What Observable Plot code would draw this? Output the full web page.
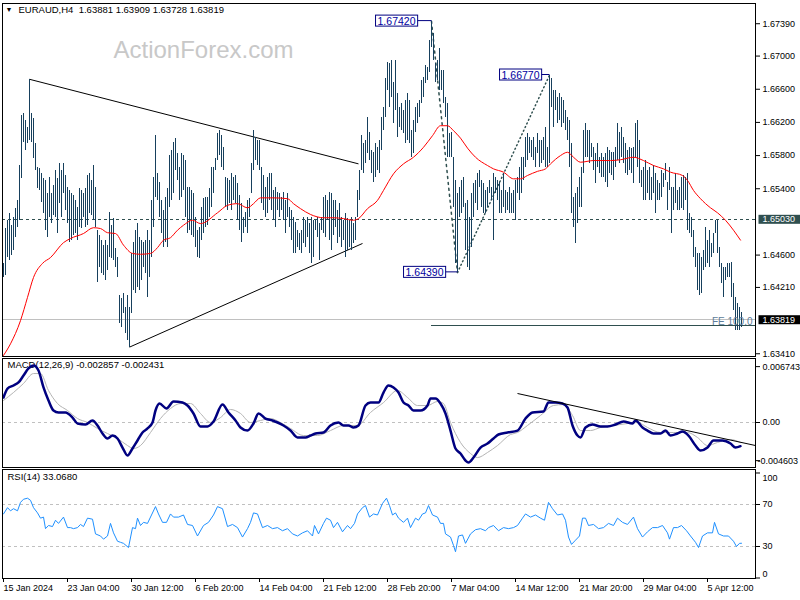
<!DOCTYPE html>
<html><head><meta charset="utf-8">
<script src="https://cdn.jsdelivr.net/npm/d3@7"></script>
<script src="https://cdn.jsdelivr.net/npm/@observablehq/plot@0.6"></script>
<style>
html,body{margin:0;padding:0;background:#fff;}
#chart{position:relative;width:800px;height:600px;overflow:hidden;background:#fff;}
#chart svg{position:absolute;left:0;}
</style></head><body><div id="chart"></div>
<script>
// ---------- DATA ----------
const symbolTitle = "EURAUD,H4\u00a0 1.63881 1.63909 1.63728 1.63819";
const highs = [
1.6450,1.6492,1.6502,1.6510,1.6496,1.6505,1.6516,1.6526,1.6568,1.6628,
1.6631,1.6622,1.6614,1.6672,1.6631,1.6625,1.6595,1.6566,1.6564,1.6558,
1.6552,1.6550,1.6534,1.6554,1.6534,1.6544,1.6562,1.6552,1.6570,1.6562,
1.6570,1.6556,1.6542,1.6538,1.6534,1.6532,1.6526,1.6517,1.6540,1.6538,
1.6534,1.6540,1.6556,1.6558,1.6550,1.6568,1.6542,1.6490,1.6484,1.6478,
1.6472,1.6478,1.6472,1.6511,1.6496,1.6504,1.6468,1.6457,1.6411,1.6408,
1.6414,1.6397,1.6411,1.6397,1.6462,1.6475,1.6490,1.6498,1.6481,1.6478,
1.6475,1.6478,1.6490,1.6478,1.6526,1.6554,1.6604,1.6558,1.6548,1.6526,
1.6514,1.6529,1.6540,1.6580,1.6586,1.6596,1.6601,1.6582,1.6566,1.6582,
1.6580,1.6574,1.6542,1.6542,1.6538,1.6534,1.6505,1.6490,1.6493,1.6517,
1.6528,1.6529,1.6529,1.6540,1.6566,1.6566,1.6576,1.6607,1.6610,1.6604,
1.6590,1.6554,1.6552,1.6550,1.6558,1.6554,1.6556,1.6546,1.6532,1.6522,
1.6505,1.6511,1.6526,1.6528,1.6570,1.6610,1.6602,1.6598,1.6598,1.6566,
1.6556,1.6542,1.6554,1.6558,1.6558,1.6538,1.6542,1.6535,1.6534,1.6529,
1.6535,1.6526,1.6534,1.6517,1.6514,1.6505,1.6499,1.6490,1.6486,1.6490,
1.6505,1.6502,1.6505,1.6498,1.6505,1.6502,1.6502,1.6505,1.6498,1.6505,
1.6529,1.6532,1.6526,1.6535,1.6534,1.6526,1.6526,1.6514,1.6522,1.6505,
1.6502,1.6510,1.6504,1.6502,1.6505,1.6498,1.6505,1.6538,1.6562,1.6604,
1.6595,1.6598,1.6626,1.6608,1.6586,1.6584,1.6595,1.6590,1.6598,1.6626,
1.6638,1.6673,1.6692,1.6691,1.6695,1.6668,1.6695,1.6655,1.6638,1.6643,
1.6634,1.6646,1.6655,1.6646,1.6610,1.6622,1.6638,1.6643,1.6646,1.6671,
1.6674,1.6689,1.6686,1.6719,1.6742,1.6727,1.6691,1.6695,1.6709,1.6683,
1.6683,1.6650,1.6643,1.6607,1.6608,1.6578,1.6550,1.6534,1.6542,1.6550,
1.6554,1.6522,1.6526,1.6505,1.6534,1.6546,1.6550,1.6558,1.6562,1.6550,
1.6546,1.6538,1.6542,1.6550,1.6542,1.6558,1.6554,1.6550,1.6548,1.6538,
1.6558,1.6538,1.6535,1.6542,1.6534,1.6538,1.6550,1.6554,1.6566,1.6578,
1.6578,1.6602,1.6607,1.6602,1.6598,1.6602,1.6590,1.6607,1.6598,1.6598,
1.6602,1.6614,1.6590,1.6677,1.6673,1.6659,1.6659,1.6650,1.6655,1.6650,
1.6646,1.6634,1.6626,1.6622,1.6595,1.6529,1.6534,1.6542,1.6554,1.6566,
1.6610,1.6619,1.6610,1.6610,1.6595,1.6590,1.6582,1.6595,1.6578,1.6582,
1.6578,1.6582,1.6590,1.6586,1.6584,1.6584,1.6590,1.6619,1.6608,1.6614,
1.6602,1.6595,1.6586,1.6590,1.6588,1.6590,1.6619,1.6622,1.6598,1.6562,
1.6566,1.6574,1.6562,1.6566,1.6554,1.6568,1.6558,1.6550,1.6546,1.6562,
1.6558,1.6570,1.6548,1.6566,1.6542,1.6542,1.6558,1.6538,1.6542,1.6554,
1.6556,1.6554,1.6558,1.6510,1.6505,1.6490,1.6469,1.6462,1.6462,1.6457,
1.6466,1.6493,1.6478,1.6490,1.6474,1.6486,1.6502,1.6502,1.6469,1.6450,
1.6445,1.6445,1.6450,1.6450,1.6451,1.6426,1.6409,1.6402,1.6397,1.63909];
const lows = [
1.6433,1.6435,1.6457,1.6453,1.6460,1.6466,1.6481,1.6493,1.6502,1.6552,
1.6596,1.6586,1.6595,1.6598,1.6596,1.6576,1.6562,1.6540,1.6538,1.6523,
1.6510,1.6490,1.6481,1.6505,1.6498,1.6508,1.6505,1.6486,1.6522,1.6505,
1.6534,1.6514,1.6498,1.6475,1.6478,1.6484,1.6486,1.6478,1.6493,1.6492,
1.6505,1.6493,1.6496,1.6510,1.6508,1.6502,1.6493,1.6427,1.6445,1.6438,
1.6435,1.6429,1.6441,1.6457,1.6456,1.6453,1.6445,1.6433,1.6378,1.6373,
1.6390,1.6365,1.6357,1.6349,1.6390,1.6417,1.6414,1.6421,1.6417,1.6429,
1.6445,1.6438,1.6409,1.6433,1.6457,1.6493,1.6529,1.6526,1.6505,1.6486,
1.6469,1.6475,1.6469,1.6517,1.6526,1.6534,1.6562,1.6550,1.6526,1.6529,
1.6538,1.6505,1.6486,1.6490,1.6484,1.6481,1.6469,1.6457,1.6456,1.6478,
1.6486,1.6493,1.6496,1.6505,1.6517,1.6534,1.6562,1.6574,1.6580,1.6566,
1.6562,1.6517,1.6514,1.6522,1.6514,1.6526,1.6522,1.6502,1.6490,1.6475,
1.6486,1.6493,1.6486,1.6505,1.6534,1.6562,1.6574,1.6568,1.6562,1.6522,
1.6514,1.6505,1.6510,1.6526,1.6514,1.6502,1.6493,1.6514,1.6505,1.6514,
1.6502,1.6486,1.6505,1.6493,1.6478,1.6462,1.6462,1.6469,1.6466,1.6462,
1.6474,1.6469,1.6481,1.6462,1.6450,1.6457,1.6490,1.6481,1.6453,1.6490,
1.6486,1.6481,1.6502,1.6478,1.6466,1.6484,1.6493,1.6474,1.6481,1.6469,
1.6478,1.6457,1.6466,1.6469,1.6466,1.6474,1.6478,1.6505,1.6526,1.6562,
1.6558,1.6570,1.6582,1.6574,1.6558,1.6548,1.6554,1.6562,1.6558,1.6586,
1.6610,1.6626,1.6659,1.6638,1.6650,1.6619,1.6634,1.6602,1.6614,1.6610,
1.6607,1.6595,1.6598,1.6595,1.6578,1.6582,1.6608,1.6619,1.6626,1.6643,
1.6650,1.6667,1.6671,1.6680,1.6710,1.6695,1.6668,1.6671,1.6659,1.6659,
1.6643,1.6626,1.6578,1.6578,1.6578,1.6517,1.6450,1.6439,1.6505,1.6510,
1.6517,1.6466,1.6445,1.6441,1.6469,1.6505,1.6522,1.6514,1.6542,1.6517,
1.6510,1.6510,1.6517,1.6534,1.6526,1.6478,1.6534,1.6526,1.6510,1.6510,
1.6517,1.6510,1.6514,1.6510,1.6510,1.6510,1.6502,1.6534,1.6526,1.6534,
1.6550,1.6566,1.6574,1.6582,1.6578,1.6574,1.6566,1.6582,1.6566,1.6570,
1.6574,1.6566,1.6566,1.6570,1.6638,1.6614,1.6634,1.6619,1.6622,1.6614,
1.6619,1.6610,1.6598,1.6566,1.6510,1.6493,1.6474,1.6498,1.6517,1.6517,
1.6558,1.6578,1.6578,1.6570,1.6578,1.6562,1.6546,1.6566,1.6558,1.6554,
1.6554,1.6548,1.6542,1.6558,1.6556,1.6550,1.6566,1.6574,1.6570,1.6578,
1.6570,1.6558,1.6556,1.6562,1.6558,1.6546,1.6578,1.6566,1.6546,1.6542,
1.6526,1.6526,1.6534,1.6526,1.6526,1.6534,1.6510,1.6526,1.6526,1.6529,
1.6542,1.6550,1.6514,1.6538,1.6486,1.6514,1.6522,1.6514,1.6514,1.6516,
1.6514,1.6526,1.6490,1.6486,1.6481,1.6457,1.6445,1.6417,1.6411,1.6414,
1.6441,1.6445,1.6450,1.6445,1.6457,1.6462,1.6486,1.6462,1.6445,1.6426,
1.6409,1.6429,1.6433,1.6433,1.6409,1.6393,1.6369,1.6369,1.6369,1.63728];

// moving average (red) read at bar positions
const maIdx = [0,3.5,8.5,12,15,19.5,23.5,30,33.5,40,45,48.5,52,56,60,64.5,68.5,73.5,77,80,83.5,87,90,94.5,98.5,107,112,117,122,125,128.5,135,142,145,148.5,153.5,160,165,170,175,177.5,182,187,190,195,200,205,210,214.5,218.5,222,225,228.5,232,236,242,245,250,255,258.5,262,267,271,273.5,278.5,282,285,288.5,295,303.5,308.5,315,320,325,330,333.5,339.5,342,345,348.5,353.5,357,361,365,368.5];
const maVal = [1.6339,1.6353,1.6381,1.6409,1.6433,1.6450,1.6457,1.6475,1.6480,1.6486,1.6493,1.6492,1.6487,1.6486,1.6472,1.6462,1.6461,1.6462,1.6469,1.6478,1.6481,1.6490,1.6496,1.6502,1.6498,1.6511,1.6520,1.6522,1.6517,1.6522,1.6529,1.6529,1.6528,1.6522,1.6516,1.6509,1.6505,1.6505,1.6504,1.6502,1.6504,1.6516,1.6526,1.6538,1.6558,1.6570,1.6578,1.6590,1.6604,1.6616,1.6616,1.6610,1.6601,1.6589,1.6578,1.6568,1.6564,1.6560,1.6552,1.6552,1.6556,1.6561,1.6564,1.6570,1.6580,1.6584,1.6578,1.6572,1.6574,1.6574,1.6575,1.6578,1.6574,1.6568,1.6564,1.6560,1.6556,1.6550,1.6538,1.6528,1.6517,1.6511,1.6502,1.6490,1.6478];

// levels and drawings
const levelPrice = 1.65030;
const lastClose = 1.63819;
const fePrice = 1.6375, feStartIdx = 214;
const triUpper = {i1: 13, p1: 1.6672, i2: 177.5, p2: 1.6570};
const triLower = {i1: 63, p1: 1.6349, i2: 179.5, p2: 1.6474};
const swingIdx = [214, 227, 273];
const swingPrice = [1.6742, 1.6439, 1.6677];
const swingText = ["1.67420", "1.64390", "1.66770"];
const priceTicks = [1.67390, 1.67000, 1.66600, 1.66200, 1.65800, 1.65400, 1.64600, 1.64210, 1.63410];

// MACD
const macdIdx = [0,2,5,7.5,10,12.5,15,17.5,20,22.5,25,27.5,31,34.5,37,41,44.5,47,49.5,52,54.5,57,59.5,62,64.5,67,69.5,72,74.5,76,78,81.5,85,89.5,92,95,98.5,102,105,109.5,112.5,116,118.5,122,125,127.5,131,134.5,137,140,143.5,147,151,153.5,156,160,163.5,167.5,170,172.5,175,177.5,181,183.5,187.5,190,192.5,195,197.5,200,202.5,205,208.5,212,213.5,216,218.5,221,223.5,226,228.5,231,232.5,235,238.5,242,245,247.5,252,257,261,264.5,270,272.5,276,279.5,282,284.5,287,288.5,291,294.5,298.5,302,306,310,314.5,316,319.5,322,325,328.5,331,333.5,337,339.5,342.5,346,348.5,352,355,359.5,363.5,366,368.5];
const macdVal = [0.00302,0.00410,0.00447,0.00483,0.00567,0.00652,0.00688,0.00628,0.00423,0.00266,0.00145,0.00121,0.00121,0.00060,-0.00012,-0.00024,0.00024,-0.00036,-0.00133,-0.00193,-0.00157,-0.00193,-0.00302,-0.00398,-0.00314,-0.00217,-0.00121,-0.00072,0.00000,0.00145,0.00229,0.00169,0.00254,0.00241,0.00205,0.00109,-0.00048,-0.00048,0.00012,0.00217,0.00121,0.00024,-0.00060,-0.00097,-0.00012,0.00109,0.00048,0.00024,0.00000,-0.00036,-0.00097,-0.00181,-0.00181,-0.00157,-0.00133,-0.00121,-0.00036,0.00000,-0.00036,-0.00036,-0.00060,-0.00036,0.00205,0.00241,0.00241,0.00362,0.00447,0.00423,0.00362,0.00241,0.00205,0.00145,0.00145,0.00205,0.00290,0.00290,0.00229,0.00109,-0.00097,-0.00314,-0.00374,-0.00459,-0.00483,-0.00423,-0.00302,-0.00254,-0.00193,-0.00145,-0.00121,-0.00097,0.00048,0.00121,0.00133,0.00241,0.00241,0.00229,0.00181,-0.00036,-0.00157,-0.00181,-0.00060,-0.00024,-0.00048,-0.00048,-0.00024,0.00012,-0.00012,0.00024,-0.00060,-0.00097,-0.00133,-0.00133,-0.00097,-0.00157,-0.00133,-0.00109,-0.00157,-0.00278,-0.00338,-0.00302,-0.00217,-0.00217,-0.00254,-0.00302,-0.002857];
const sigIdx = [0,5,10,15,18.5,22.5,27,32,37,42,47,52,57,62,65,68.5,73.5,78.5,83.5,88.5,93.5,98.5,103.5,108.5,113.5,118.5,123.5,128.5,133.5,138.5,143.5,150,157,163.5,170,177,183.5,190,197,202,207,212,217,220,223.5,228.5,233.5,237,242,247,253.5,257,262,268.5,275,280,284.5,288.5,293.5,298.5,305,312,317,322,328.5,335,342,347,352,357,363.5,368.5];
const sigVal = [0.00266,0.00362,0.00471,0.00591,0.00591,0.00386,0.00229,0.00145,0.00048,0.00000,-0.00072,-0.00133,-0.00193,-0.00278,-0.00314,-0.00278,-0.00121,0.00048,0.00169,0.00229,0.00229,0.00109,0.00000,0.00060,0.00157,0.00109,0.00000,0.00024,0.00048,0.00000,-0.00072,-0.00157,-0.00157,-0.00097,-0.00036,-0.00036,0.00121,0.00241,0.00386,0.00302,0.00205,0.00205,0.00254,0.00229,0.00000,-0.00241,-0.00374,-0.00423,-0.00362,-0.00278,-0.00145,-0.00121,-0.00036,0.00085,0.00205,0.00217,0.00085,-0.00097,-0.00097,-0.00060,-0.00036,-0.00012,0.00000,-0.00060,-0.00121,-0.00121,-0.00121,-0.00181,-0.00278,-0.00241,-0.00205,-0.002431];
const macdTrend = {i1: 257, v1: 0.0035, i2: 376, v2: -0.00278};
const macdTicks = [0.006743, 0];
const macdMinTick = -0.004603;
const macdTitle = "MACD(12,26,9) -0.002857 -0.002431";

// RSI
const rsiIdx = [0,2,3.5,5,7,8.5,10,12,13.5,15,17,18.5,20,21,22.5,24.5,26,27.5,30,32,33.5,35,37,38.5,40,42,44.5,46,48.5,50,52,53.5,55,57,58.5,60,62.5,64.5,66,67,68.5,70,72,74,76,77.5,79.5,81.5,83.5,85,87.5,90,92,94.5,97,100,102.5,105,107,109.5,112,114.5,117,119.5,122,123.5,125,127,129.5,132,134.5,137,139.5,142,144.5,147,149.5,152,154.5,155.5,157.5,160,161.5,163.5,165,167,169.5,172,173.5,175.5,177,179.5,181,183,185,187,189.5,191.5,193,194.5,196,197.5,200,202,203.5,206,207.5,209.5,211,212.5,214.5,217,218.5,220,221,223.5,225,226,227.5,229.5,231,233.5,236,238.5,241,242.5,245,247.5,250,252.5,255,257,259.5,261,263.5,266,268.5,270.5,272.5,274.5,277,279.5,281,282.5,284,286,288,289.5,291,292.5,295,297.5,300,302.5,305,307,309.5,312,315,317,319.5,322,324.5,327,329.5,332,333,335,337,339,341.5,343.5,346,347.5,349.5,352,354.5,355.5,357.5,360,362.5,365,366.5,368,369];
const rsiVal = [61,67,64,66,64,72,75,76,74,67,62,57,58,47,50,49,55,52,58,48,48,47,48,51,49,57,56,42,40,37,40,52,43,35,34,33,29,48,47,57,50,53,52,60,68,61,53,53,61,58,58,60,51,50,40,50,53,60,68,66,49,51,48,39,47,53,62,61,48,50,47,48,45,47,42,40,43,45,40,50,42,52,57,55,48,53,44,50,47,52,61,67,69,58,61,60,71,76,69,60,62,57,53,57,48,57,55,61,62,69,60,58,52,52,42,39,31,25,40,41,33,42,46,47,45,48,50,45,48,47,48,50,57,61,58,60,57,55,72,66,60,61,55,39,32,36,40,57,57,50,51,47,48,52,50,57,53,51,58,47,39,44,48,48,50,43,37,48,48,50,45,40,34,29,40,43,43,53,42,40,40,35,30,33,33.068];
const rsiLevels = [70, 30];
const rsiTitle = "RSI(14) 33.0680";

// time axis
const dateTickIdx = [0,32,64,96,128,160,192,224,256,288,320,352];
const dateTickText = ["15 Jan 2024","23 Jan 04:00","30 Jan 12:00","6 Feb 20:00","14 Feb 04:00","21 Feb 12:00","28 Feb 20:00","7 Mar 04:00","14 Mar 12:00","21 Mar 20:00","29 Mar 04:00","5 Apr 12:00"];

// ---------- RENDER ----------
const FONT = "'Liberation Sans', Arial, sans-serif";
const style = {fontFamily: FONT, fontSize: "9px", color: "#000", background: "transparent", overflow: "visible"};
const X = {domain: [-0.5, 376], axis: null};
const BAR = "#17405d";
const NS = "http://www.w3.org/2000/svg";

const bars = highs.map((h, i) => ({i, hi: h, lo: lows[i]}));
const ma = maIdx.map((i, k) => ({i, v: maVal[k]}));
const macd = macdIdx.map((i, k) => ({i, v: macdVal[k]}));
const sig = sigIdx.map((i, k) => ({i, v: sigVal[k]}));
const rsi = rsiIdx.map((i, k) => ({i, v: rsiVal[k]}));
const swings = swingIdx.map((i, k) => ({i, p: swingPrice[k], t: swingText[k]}));

const main = Plot.plot({
  width: 800, height: 357, marginLeft: 2, marginRight: 45, marginTop: 3, marginBottom: 1,
  style, x: X,
  y: {domain: [1.63377, 1.67634], axis: null},
  marks: [
    Plot.text(["ActionForex.com"], {frameAnchor: "top-left", dx: 111, dy: 37, lineAnchor: "top", textAnchor: "start", fontSize: 24, fill: "#c8c8c8"}),
    Plot.ruleY([levelPrice], {stroke: "#2f4f4f", strokeDasharray: "3,3", shapeRendering: "crispEdges"}),
    Plot.ruleY([lastClose], {stroke: "#c0c0c0", shapeRendering: "crispEdges"}),
    Plot.ruleY([{y: fePrice, x1: feStartIdx, x2: 376}], {y: "y", x1: "x1", x2: "x2", stroke: "#2f4f4f", shapeRendering: "crispEdges"}),
    Plot.link([triUpper, triLower], {x1: "i1", y1: "p1", x2: "i2", y2: "p2", stroke: "#000"}),
    Plot.line([swings[0], swings[1]], {x: "i", y: "p", stroke: "#2f4f4f", strokeDasharray: "2,4"}),
    Plot.line([swings[1], swings[2]], {x: "i", y: "p", stroke: "#2f4f4f", strokeDasharray: "1,3"}),
    Plot.ruleX(bars, {x: "i", y1: "lo", y2: "hi", stroke: BAR, shapeRendering: "crispEdges"}),
    Plot.line(ma, {x: "i", y: "v", stroke: "#ff0000", strokeWidth: 1, curve: "monotone-x"}),
    Plot.text([{y: fePrice}], {y: "y", text: () => "FE 100.0", frameAnchor: "right", textAnchor: "end", lineAnchor: "bottom", dx: -3, dy: -1, fill: "#5d7d9a", fontSize: 10}),
    Plot.axisY(priceTicks, {anchor: "right", label: null, tickSize: 4, tickPadding: 3, tickFormat: d => d.toFixed(5)}),
    Plot.frame({stroke: "#000", shapeRendering: "crispEdges"}),
    Plot.text(["\u25BC"], {frameAnchor: "top-left", dx: 3, dy: 4, lineAnchor: "top", textAnchor: "start", fontSize: 7}),
    Plot.text([symbolTitle], {frameAnchor: "top-left", dx: 16, dy: 3, lineAnchor: "top", textAnchor: "start", fontSize: 9.5}),
    Plot.text([swings[0]], {x: "i", y: "p", text: "t", textAnchor: "end", dx: -16, fill: "#0000a0", fontSize: 10.5, className: "sw0"}),
    Plot.text([swings[1]], {x: "i", y: "p", text: "t", textAnchor: "end", dx: -14, fill: "#0000a0", fontSize: 10.5, className: "sw1"}),
    Plot.text([swings[2]], {x: "i", y: "p", text: "t", textAnchor: "end", dx: -10, fill: "#0000a0", fontSize: 10.5, className: "sw2"}),
    Plot.text([{y: levelPrice}], {y: "y", text: d => d.y.toFixed(5), frameAnchor: "right", textAnchor: "start", dx: 7, fill: "#ffffff", className: "lvl"}),
    Plot.text([{y: lastClose}], {y: "y", text: d => d.y.toFixed(5), frameAnchor: "right", textAnchor: "start", dx: 7, fill: "#ffffff", className: "last"})
  ]
});

const macdPlot = Plot.plot({
  width: 800, height: 111, marginLeft: 2, marginRight: 45, marginTop: 1, marginBottom: 1,
  style, x: X,
  y: {domain: [-0.005431, 0.007725], axis: null},
  marks: [
    Plot.ruleY([0], {stroke: "#c0c0c0", strokeDasharray: "3,3", shapeRendering: "crispEdges"}),
    Plot.text([macdTitle], {frameAnchor: "top-left", dx: 5, dy: 3, lineAnchor: "top", textAnchor: "start", fontSize: 9.5}),
    Plot.line(sig, {x: "i", y: "v", stroke: "#b4b4b4", strokeWidth: 1, curve: "monotone-x"}),
    Plot.line(macd, {x: "i", y: "v", stroke: "#000080", strokeWidth: 2.5, curve: "monotone-x"}),
    Plot.link([macdTrend], {x1: "i1", y1: "v1", x2: "i2", y2: "v2", stroke: "#000"}),
    Plot.axisY(macdTicks, {anchor: "right", label: null, tickSize: 4, tickPadding: 3, tickFormat: d => d === 0 ? "0.00" : d.toFixed(6)}),
    Plot.axisY([macdMinTick], {anchor: "right", label: null, tickSize: 4, tickFormat: () => ""}),
    Plot.text([macdMinTick], {y: d => d, text: d => d.toFixed(6), frameAnchor: "right", textAnchor: "start", dx: 2}),
    Plot.frame({stroke: "#000", shapeRendering: "crispEdges"})
  ]
});

const rsiPlot = Plot.plot({
  width: 800, height: 132, marginLeft: 2, marginRight: 45, marginTop: 1, marginBottom: 22,
  style, x: X,
  y: {domain: [-0.476, 103.33], axis: null},
  marks: [
    Plot.ruleY(rsiLevels, {stroke: "#c0c0c0", strokeDasharray: "3,3", shapeRendering: "crispEdges"}),
    Plot.text([rsiTitle], {frameAnchor: "top-left", dx: 5, dy: 4, lineAnchor: "top", textAnchor: "start", fontSize: 9.5}),
    Plot.line(rsi, {x: "i", y: "v", stroke: "#1e90ff", strokeWidth: 1}),
    Plot.axisY(rsiLevels, {anchor: "right", label: null, tickSize: 4, tickPadding: 3}),
    Plot.axisY([100, 0], {anchor: "right", label: null, tickSize: 4, tickFormat: () => ""}),
    Plot.text([100], {y: d => d, text: d => String(d), frameAnchor: "right", textAnchor: "start", dx: 7, dy: 5}),
    Plot.text([0], {y: d => d, text: d => String(d), frameAnchor: "right", textAnchor: "start", dx: 7, dy: -4}),
    Plot.axisX(dateTickIdx, {anchor: "bottom", label: null, tickSize: 4, tickPadding: 2, textAnchor: "start", tickFormat: d => dateTickText[dateTickIdx.indexOf(d)]}),
    Plot.frame({stroke: "#000", shapeRendering: "crispEdges"})
  ]
});

const root = document.getElementById("chart");
[[main, 0], [macdPlot, 357], [rsiPlot, 468]].forEach(([svg, top]) => {
  svg.style.position = "absolute";
  svg.style.top = top + "px";
  svg.style.left = "0px";
  root.appendChild(svg);
});

function boxText(svg, cls, o) {
  svg.querySelectorAll("." + cls + " text").forEach(t => {
    const b = t.getBBox();
    const x0 = b.x - o.padL, x1 = b.x + b.width + o.padR;
    const y0 = b.y + o.padT, y1 = b.y + b.height - o.padB;
    const r = document.createElementNS(NS, "rect");
    r.setAttribute("x", x0); r.setAttribute("y", y0);
    r.setAttribute("width", x1 - x0); r.setAttribute("height", y1 - y0);
    r.setAttribute("fill", o.fill);
    if (o.stroke) { r.setAttribute("stroke", o.stroke); r.setAttribute("stroke-width", 1); }
    const tr = t.getAttribute("transform");
    if (tr) r.setAttribute("transform", tr);
    t.parentNode.insertBefore(r, t);
    if (o.gap) {
      const ax = (+t.getAttribute("x") || 0) + o.gap;
      const ym = (y0 + y1) / 2;
      const l = document.createElementNS(NS, "line");
      l.setAttribute("x1", x1); l.setAttribute("x2", ax);
      l.setAttribute("y1", ym); l.setAttribute("y2", ym);
      l.setAttribute("stroke", o.stroke);
      if (tr) l.setAttribute("transform", tr);
      t.parentNode.insertBefore(l, t);
    }
  });
}
boxText(main, "sw0", {padL: 2, padR: 2, padT: 0.5, padB: 0.5, fill: "#fff", stroke: "#000080", gap: 16});
boxText(main, "sw1", {padL: 2, padR: 2, padT: 0.5, padB: 0.5, fill: "#fff", stroke: "#000080", gap: 14});
boxText(main, "sw2", {padL: 2, padR: 2, padT: 0.5, padB: 0.5, fill: "#fff", stroke: "#000080", gap: 10});
boxText(main, "lvl", {padL: 4, padR: 8, padT: 0.5, padB: 0.5, fill: "#2f4f4f"});
boxText(main, "last", {padL: 4, padR: 8, padT: 0.5, padB: 0.5, fill: "#000"});
</script></body></html>
